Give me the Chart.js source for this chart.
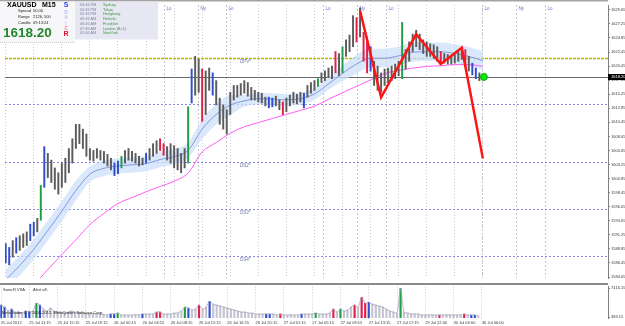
<!DOCTYPE html>
<html>
<head>
<meta charset="utf-8">
<script src="https://cdn.jsdelivr.net/npm/chart.js@4.4.0/dist/chart.umd.min.js"></script>
<style>
body { margin: 0; background: #fff; }
#wrap { position: relative; width: 625px; height: 326px; }
canvas { position: absolute; left: 0; }
</style>
</head>
<body>
<div id="wrap">
<canvas id="chartPrecio" width="625" height="283" style="top:0px"></canvas>
<canvas id="chartVolumen" width="625" height="43" style="top:283px"></canvas>
</div>
<script>
// XAUUSD M15, one entry every 30 min (index = bar position)
var barHigh = [1589.76,1589.10,1590.26,1590.75,1591.09,1591.42,1591.75,1593.07,1593.40,1594.06,
  1599.69,1606.31,1605.15,1604.00,1602.67,1601.84,1603.50,1604.33,1605.98,1607.64,
  1610.12,1610.12,1609.29,1608.46,1605.98,1605.65,1605.98,1605.65,1605.49,1604.99,
  1604.33,1603.50,1603.83,1604.66,1605.65,1605.98,1605.49,1605.15,1604.66,1604.33,
  1605.15,1605.98,1606.81,1607.31,1607.64,1606.81,1606.31,1606.81,1606.48,1605.98,
  1605.15,1605.98,1613.10,1619.55,1621.71,1621.21,1619.55,1619.22,1619.72,1618.89,
  1617.57,1614.59,1613.43,1612.60,1615.58,1616.74,1616.74,1617.07,1617.57,1617.24,
  1616.41,1615.91,1615.58,1615.42,1614.75,1614.75,1614.59,1614.92,1614.26,1613.93,
  1614.59,1615.09,1615.58,1615.25,1615.58,1615.42,1616.74,1617.24,1617.57,1617.90,
  1618.89,1619.22,1619.72,1620.05,1622.53,1622.20,1623.36,1624.52,1625.35,1628.66,
  1628.33,1629.98,1625.84,1625.02,1623.36,1620.88,1620.05,1618.89,1619.55,1619.72,
  1620.05,1620.38,1620.88,1627.50,1622.87,1624.19,1625.51,1626.18,1625.51,1624.52,
  1624.19,1623.86,1623.69,1623.36,1622.53,1622.20,1622.04,1621.87,1622.04,1622.53,
  1623.03,1622.87,1621.71,1620.55,1619.72,1618.89]
var barLow = [1586.45,1586.12,1587.44,1588.11,1588.60,1589.10,1589.43,1590.26,1591.09,1591.75,
  1593.73,1599.36,1601.02,1600.19,1599.03,1598.20,1599.36,1600.19,1601.84,1603.50,
  1605.98,1606.81,1605.98,1604.66,1604.00,1603.83,1604.33,1604.00,1603.50,1603.00,
  1602.34,1601.35,1601.68,1602.67,1603.50,1604.00,1603.83,1603.50,1603.00,1603.17,
  1603.50,1604.00,1604.66,1605.15,1605.65,1604.82,1604.00,1603.50,1602.67,1602.34,
  1601.84,1602.67,1603.50,1613.76,1615.09,1615.58,1610.62,1611.78,1615.91,1615.09,
  1613.43,1610.12,1609.29,1608.46,1611.78,1614.26,1614.75,1615.09,1615.42,1614.92,
  1614.26,1614.26,1613.93,1613.76,1613.26,1612.93,1613.10,1613.26,1612.60,1611.78,
  1612.27,1613.26,1613.76,1613.60,1613.93,1612.93,1614.75,1615.42,1615.91,1616.58,
  1617.24,1617.57,1618.07,1617.90,1618.89,1618.40,1618.89,1621.71,1622.53,1623.36,
  1624.19,1625.02,1620.88,1618.89,1619.22,1616.74,1615.91,1615.58,1616.74,1617.24,
  1617.57,1617.90,1618.40,1617.90,1619.55,1620.88,1622.53,1623.36,1622.87,1622.20,
  1621.71,1621.71,1621.38,1620.88,1620.38,1620.55,1620.38,1620.38,1620.55,1620.88,
  1621.21,1619.89,1619.22,1618.56,1617.90,1617.57]
// 0 normal, 1 blue, 2 red, 3 green (SonicR VSA)
var barType = [1,1,0,1,0,0,0,1,1,0,
  3,1,0,0,0,0,0,0,0,0,
  0,0,0,0,0,0,0,0,0,0,
  0,1,1,3,0,0,0,0,0,0,
  1,0,0,0,2,2,0,0,0,0,
  0,0,3,1,0,0,2,0,0,1,
  0,0,0,0,0,0,0,0,0,0,
  0,0,0,0,0,1,1,0,0,2,
  0,0,0,0,0,1,0,0,0,3,
  0,0,0,0,2,0,3,0,0,0,
  2,0,2,2,1,0,0,0,0,0,
  0,0,0,3,0,0,0,0,0,0,
  0,0,0,0,2,0,0,0,0,0,
  0,2,0,1,1,0]
var volume = [3290,2800,1840,2320,1590,1590,1350,1840,1590,1840,
  3770,3290,2320,1840,2560,1840,1590,1590,1350,1590,
  1840,1590,1350,1350,1110,1110,1200,1110,1110,1000,
  870,1110,1110,1350,870,900,870,870,950,870,
  1110,1110,1110,1110,1590,1590,1110,1110,1110,1350,
  1350,1840,2800,2560,2080,2320,3290,2320,2800,4260,
  3530,3290,3050,2800,2560,2320,2080,1840,1590,1590,
  1350,1350,1110,1110,1110,1110,1110,1110,870,1110,
  870,870,900,870,870,1110,1110,1110,1110,1350,
  1110,1110,1110,1350,2320,1590,2320,1840,2080,2800,
  3290,2800,5220,3770,4010,3530,3290,3050,2800,2320,
  1840,1590,1350,7416,1590,1350,1110,1110,1110,870,
  870,870,900,870,870,870,900,870,870,870,
  870,1110,870,870,870,620]

var maIdx = [0,4,8,12,16,20,24,28,32,36,40,44,48,52,56,60,64,68,72,76,80,84,88,92,96,100,104,108,112,116,120,124,128,132,136]
var slowMA = [1577.5,1580.0,1582.7,1585.3,1587.9,1590.4,1593.0,1594.9,1596.6,1597.6,1598.6,1599.5,1600.4,1601.8,1605.4,1607.0,1608.6,1609.7,1610.4,1611.1,1611.8,1612.5,1613.2,1614.4,1615.5,1616.6,1617.7,1618.8,1619.3,1619.7,1620.0,1620.1,1620.3,1620.3,1620.0]
var fastMA = [1583.6,1586.0,1588.8,1592.0,1595.3,1598.8,1601.6,1602.6,1603.0,1603.2,1603.4,1604.1,1604.6,1605.7,1609.3,1611.8,1613.4,1614.1,1614.5,1614.4,1614.3,1614.5,1615.3,1617.0,1618.8,1620.4,1621.4,1621.4,1621.8,1622.4,1622.5,1622.5,1622.2,1621.7,1621.0]
var bandUp = [1585.3,1587.7,1590.5,1593.7,1597.0,1600.5,1602.9,1603.9,1604.3,1604.5,1604.7,1605.4,1605.9,1607.0,1611.0,1613.5,1615.1,1615.1,1615.5,1615.4,1615.3,1615.5,1616.3,1618.0,1620.1,1622.0,1623.0,1623.0,1623.4,1624.0,1624.1,1624.1,1623.8,1623.3,1622.6]
var bandDown = [1581.9,1584.3,1587.1,1590.3,1593.6,1597.1,1600.3,1601.3,1601.7,1601.9,1602.1,1602.8,1603.3,1604.4,1607.6,1610.1,1611.7,1613.1,1613.5,1613.4,1613.3,1613.5,1614.3,1616.0,1617.5,1618.8,1619.8,1619.8,1620.2,1620.8,1620.9,1620.9,1620.6,1620.1,1619.4]

var zigzagIdx = [101, 107, 117, 124, 130, 136]
var zigzagPrice = [1629.5, 1614.7, 1625.5, 1620.4, 1623.2, 1604.3]
var lastPrice = 1618.20
var lastIdx = 136.3

var levelPrice = [1621.36, 1613.57, 1603.62, 1595.66, 1587.70]
var levelName = ['DPV*', '', 'DS2*', 'DS3*', 'DS4*']
var levelLabelIdx = 66.8

var sessionIdx = [45.0, 54.9, 62.8, 90.5, 100.2, 108.4, 135.8, 145.4, 153.6]
var sessionName = ['Lo', 'Ny', 'Lo', 'Lo', 'Ny', 'Lo', 'Lo', 'Ny', 'Lo']

var yTicks = [1629.65,1627.25,1624.85,1622.45,1620.05,1617.65,1615.25,1612.85,1610.45,1608.05,
  1605.65,1603.25,1600.85,1598.45,1596.05,1593.65,1591.25,1588.85,1586.45,1584.05]
var volTicks = [383.15, 7416.15]
var xTickIdx = [0,8,16,24,32,40,48,56,64,72,80,88,96,104,112,120,128,136]
var xLabels = ['25 Jul 2012','25 Jul 11:15','25 Jul 15:15','25 Jul 19:15','26 Jul 00:15','26 Jul 04:15',
  '26 Jul 08:15','26 Jul 12:15','26 Jul 16:15','26 Jul 20:15','27 Jul 01:15','27 Jul 05:15',
  '27 Jul 09:15','27 Jul 13:15','27 Jul 17:15','29 Jul 22:00','30 Jul 03:00','30 Jul 06:00']

var sessTimes = ['04:46 PM','03:46 PM','02:46 PM','09:46 AM','08:46 AM','07:46 AM','02:46 AM']
var sessCities = ['Sydney','Tokyo','Hongkong','Helsinki','Frankfurt','London (B+1)','NewYork']

var priceColors = ['#5c5c5c', '#2f4fd0', '#e0204a', '#1f9f45']
var volColors = ['#c4c4d2', '#2f4fd0', '#e0204a', '#1f9f45']
var FONT = '"Liberation Sans", Arial, sans-serif'
var X_MIN = -0.2, X_MAX = 171.67

function pts(xs, ys) {
    return xs.map(function (x, k) { return {x: x, y: ys[k]} })
}

var extrasPrecio = {
    id: 'extrasPrecio',
    beforeDatasetsDraw: function (chart) {
        let c = chart.ctx, a = chart.chartArea, sx = chart.scales.x, sy = chart.scales.y
        c.save()
        c.beginPath(); c.rect(a.left, a.top, a.right - a.left, a.bottom - a.top); c.clip()
        c.lineWidth = 1
        // session markers
        sessionIdx.forEach(function (v, k) {
            let px = Math.round(sx.getPixelForValue(v)) + 0.5
            c.strokeStyle = '#c4c4cc'; c.setLineDash([2, 2])
            c.beginPath(); c.moveTo(px, a.top); c.lineTo(px, a.bottom); c.stroke()
            c.fillStyle = '#6a6ad0'; c.font = '4.5px ' + FONT
            c.textAlign = 'left'; c.textBaseline = 'top'
            c.fillText(sessionName[k], px + 2, a.top + 2)
        })
        // pivot levels
        levelPrice.forEach(function (p, k) {
            let py = Math.round(sy.getPixelForValue(p)) + 0.5
            c.strokeStyle = k == 0 ? '#b8b800' : '#8a8ae6'
            c.setLineDash(k == 0 ? [3, 1] : [2, 2])
            c.lineWidth = k == 0 ? 1.3 : 1
            c.beginPath(); c.moveTo(a.left, py); c.lineTo(a.right, py); c.stroke()
            if (levelName[k] != '') {
                c.fillStyle = '#7272a8'; c.font = '4.5px ' + FONT
                c.textAlign = 'left'; c.textBaseline = 'top'
                c.fillText(levelName[k], sx.getPixelForValue(levelLabelIdx), py + 1)
            }
        })
        // bid line
        let by = Math.round(sy.getPixelForValue(lastPrice)) + 0.5
        c.setLineDash([]); c.lineWidth = 1; c.strokeStyle = '#6a6a6a'
        c.beginPath(); c.moveTo(a.left, by); c.lineTo(a.right, by); c.stroke()
        c.restore()
    },
    afterDraw: function (chart) {
        let c = chart.ctx, a = chart.chartArea, sy = chart.scales.y
        c.save()
        c.fillStyle = '#a4a4a4'; c.fillRect(0, 0, a.right, 1.5)
        // current price box on the axis
        let by = Math.round(sy.getPixelForValue(lastPrice))
        c.fillStyle = '#000'; c.fillRect(a.right, by - 3, 625 - a.right, 6)
        c.fillStyle = '#fff'; c.font = '4px ' + FONT
        c.textAlign = 'left'; c.textBaseline = 'middle'
        c.fillText(lastPrice.toFixed(2), a.right + 3, by)
        // info panel
        c.fillStyle = '#f7f7f9'; c.fillRect(0, 1.5, 75, 41)
        c.fillStyle = '#e7e7f3'; c.fillRect(75, 1.5, 83, 38)
        c.strokeStyle = '#d0d0d8'; c.setLineDash([1, 1])
        c.beginPath(); c.moveTo(0, 42.5); c.lineTo(75, 42.5); c.stroke()
        c.setLineDash([])
        c.textAlign = 'left'; c.textBaseline = 'middle'
        c.fillStyle = '#000'; c.font = 'bold 7px ' + FONT
        c.fillText('XAUUSD', 7, 5.5); c.fillText('M15', 42, 5.5)
        c.font = '4px ' + FONT; c.fillStyle = '#202020'
        c.fillText('Spread', 18, 11); c.fillText('50.00', 33, 11)
        c.fillText('Range', 18, 17); c.fillText('2126, 500', 33, 17)
        c.fillText('Candle', 18, 23); c.fillText('09:13:24', 33, 23)
        c.fillStyle = '#22892a'; c.font = 'bold 13.5px ' + FONT
        c.fillText(lastPrice.toFixed(2), 3, 33)
        let letters = ['S', 'O', 'N', 'I', 'C', 'R']
        let lColors = ['#2040e0', '#a8b4ff', '#c8c0e8', '#ff9fcf', '#ff6a9a', '#e01030']
        let lY = [5, 12.5, 18, 23.5, 28.5, 34]
        letters.forEach(function (l, k) {
            c.fillStyle = lColors[k]
            c.font = (k == 0 || k == 5 ? 'bold 7px ' : 'bold 4.5px ') + FONT
            c.textAlign = 'center'
            c.fillText(l, 66, lY[k])
        })
        c.textAlign = 'left'; c.font = '3.8px ' + FONT
        sessTimes.forEach(function (t, k) {
            let ty = 5 + k * 4.7
            c.fillStyle = '#8282a2'; c.fillText(t, 80, ty)
            c.fillStyle = '#3a9a3a'; c.fillText(sessCities[k], 103, ty)
        })
        c.restore()
    }
}

var ctx = document.getElementById('chartPrecio')
var chartPrecio = new Chart(ctx, {
    type: 'bar',
    data: {
        datasets: [{
            type: 'line',
            data: pts(maIdx, bandUp),
            borderWidth: 0,
            pointRadius: 0,
            backgroundColor: 'rgba(204,224,249,0.75)',
            fill: '+1',
            cubicInterpolationMode: 'monotone',
            order: 6
        }, {
            type: 'line',
            data: pts(maIdx, bandDown),
            borderWidth: 0,
            pointRadius: 0,
            fill: false,
            cubicInterpolationMode: 'monotone',
            order: 6
        }, {
            type: 'line',
            data: pts(maIdx, fastMA),
            borderColor: '#8894e0',
            borderWidth: 1,
            pointRadius: 0,
            cubicInterpolationMode: 'monotone',
            order: 5
        }, {
            type: 'line',
            data: pts(maIdx, slowMA),
            borderColor: '#ff5cf4',
            borderWidth: 1,
            pointRadius: 0,
            cubicInterpolationMode: 'monotone',
            order: 5
        }, {
            data: barHigh.map(function (h, i) { return {x: i, y: [barLow[i], h]} }),
            backgroundColor: barType.map(function (t) { return priceColors[t] }),
            barThickness: 1.3,
            order: 3
        }, {
            type: 'line',
            data: pts(zigzagIdx, zigzagPrice),
            borderColor: '#ff1414',
            borderWidth: 2.5,
            pointRadius: 0,
            tension: 0,
            order: 2
        }, {
            type: 'line',
            data: [{x: lastIdx, y: lastPrice}],
            showLine: false,
            pointRadius: 3.5,
            pointBackgroundColor: '#10e010',
            pointBorderColor: '#0cb80c',
            order: 1
        }]
    },
    options: {
        responsive: false,
        animation: false,
        layout: { padding: { top: 2, left: 0, right: 0, bottom: 0 } },
        plugins: { legend: { display: false }, tooltip: { enabled: false } },
        scales: {
            x: {
                type: 'linear',
                min: X_MIN,
                max: X_MAX,
                offset: false,
                afterBuildTicks: function (s) { s.ticks = xTickIdx.map(function (v) { return {value: v} }) },
                afterFit: function (s) { s.height = 0 },
                ticks: { display: false },
                grid: { color: '#c9c9d8', drawTicks: false, offset: false },
                border: { display: false, dash: [1, 2] }
            },
            y: {
                position: 'right',
                min: 1583.88,
                max: 1630.48,
                afterBuildTicks: function (s) { s.ticks = yTicks.map(function (v) { return {value: v} }) },
                afterFit: function (s) { s.width = 17 },
                ticks: {
                    autoSkip: false,
                    padding: 1,
                    color: '#3a3a3a',
                    font: { size: 4, family: FONT },
                    callback: function (val) { return val.toFixed(2) }
                },
                grid: { drawOnChartArea: false, tickLength: 2, color: '#808080' },
                border: { color: '#808080' }
            }
        }
    },
    plugins: [extrasPrecio]
})

var extrasVolumen = {
    id: 'extrasVolumen',
    beforeDraw: function (chart) {
        let c = chart.ctx, a = chart.chartArea
        c.save()
        c.fillStyle = '#8a8a8a'; c.fillRect(0, 0, a.right, 2)
        c.restore()
    },
    afterDraw: function (chart) {
        let c = chart.ctx
        c.save()
        c.font = '4px ' + FONT; c.fillStyle = '#303030'
        c.textAlign = 'left'; c.textBaseline = 'middle'
        c.fillText('SonicR VSA', 3, 6.5)
        c.fillText('Alert off.', 33, 6.5)
        c.fillStyle = '#202020'
        c.fillText('MetaTrader 4, \u00a9 2001-2012, MetaQuotes Software Corp.', 2, 30)
        c.restore()
    }
}

var ctx2 = document.getElementById('chartVolumen')
var chartVolumen = new Chart(ctx2, {
    type: 'bar',
    data: {
        datasets: [{
            type: 'line',
            data: volume.map(function (v, i) { return {x: i, y: v} }),
            borderColor: '#a6a6ba',
            borderWidth: 0.8,
            pointRadius: 0,
            tension: 0.3,
            order: 0
        }, {
            data: volume.map(function (v, i) { return {x: i, y: v} }),
            backgroundColor: barType.map(function (t) { return volColors[t] }),
            barThickness: 1.5,
            order: 1
        }]
    },
    options: {
        responsive: false,
        animation: false,
        layout: { padding: { top: 3, left: 0, right: 0, bottom: 0 } },
        plugins: { legend: { display: false }, tooltip: { enabled: false } },
        scales: {
            x: {
                type: 'linear',
                min: X_MIN,
                max: X_MAX,
                offset: false,
                afterBuildTicks: function (s) { s.ticks = xTickIdx.map(function (v) { return {value: v} }) },
                afterFit: function (s) { s.height = 8 },
                ticks: {
                    autoSkip: false,
                    maxRotation: 0,
                    minRotation: 0,
                    align: 'start',
                    padding: 1,
                    color: '#3a3a3a',
                    font: { size: 4, family: FONT },
                    callback: function (val) {
                        let k = xTickIdx.indexOf(val)
                        return k >= 0 ? xLabels[k] : ''
                    }
                },
                grid: { color: '#c9c9d8', tickLength: 1, offset: false },
                border: { display: false, dash: [1, 2] }
            },
            y: {
                position: 'right',
                min: 140.6,
                max: 7901,
                afterBuildTicks: function (s) { s.ticks = volTicks.map(function (v) { return {value: v} }) },
                afterFit: function (s) { s.width = 17 },
                ticks: {
                    autoSkip: false,
                    padding: 1,
                    color: '#3a3a3a',
                    font: { size: 4, family: FONT },
                    callback: function (val) { return val.toFixed(2) }
                },
                grid: { drawOnChartArea: false, tickLength: 2, color: '#808080' },
                border: { color: '#808080' }
            }
        }
    },
    plugins: [extrasVolumen]
})
</script>
</body>
</html>
